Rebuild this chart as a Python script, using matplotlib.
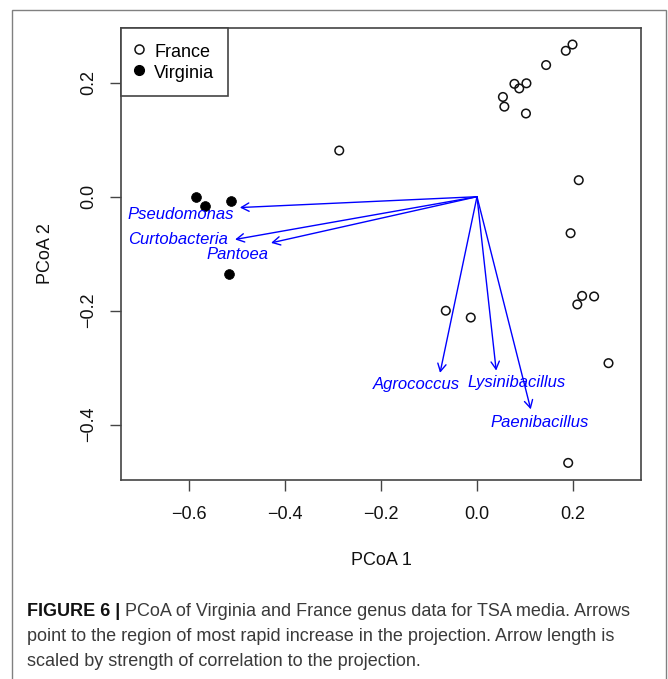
import matplotlib
matplotlib.use("Agg")
import matplotlib.pyplot as plt
from matplotlib.patches import Rectangle
from matplotlib.lines import Line2D

plt.rcParams['font.family'] = ['Liberation Sans', 'DejaVu Sans']

# France samples (open circles)
france_x = [0.199, 0.185, 0.144, 0.078, 0.103, 0.088, 0.054, 0.057, 0.102,
            -0.287, 0.212, 0.195, 0.219, 0.244, 0.209, -0.065, -0.013, 0.274, 0.190]
france_y = [0.267, 0.256, 0.231, 0.198, 0.199, 0.190, 0.175, 0.158, 0.146,
            0.081, 0.029, -0.064, -0.174, -0.175, -0.189, -0.200, -0.212, -0.292, -0.467]

# Virginia samples (filled circles)
virginia_x = [-0.585, -0.566, -0.5125, -0.517]
virginia_y = [0.000, -0.016, -0.007, -0.136]

# Genus arrows (tips) and label positions
genera = ["Pseudomonas", "Curtobacteria", "Pantoea", "Agrococcus", "Lysinibacillus", "Paenibacillus"]
arrow_x = [-0.494, -0.504, -0.429, -0.077, 0.040, 0.112]
arrow_y = [-0.019, -0.075, -0.081, -0.309, -0.305, -0.373]
label_x = [-0.617, -0.623, -0.500, -0.127, 0.083, 0.131]
label_y = [-0.0384, -0.083, -0.1098, -0.338, -0.3344, -0.4035]

x_ticks = [-0.6, -0.4, -0.2, 0.0, 0.2]
y_ticks = [-0.4, -0.2, 0.0, 0.2]

caption_bold = "FIGURE 6 | "
caption_lines = [
    "PCoA of Virginia and France genus data for TSA media. Arrows",
    "point to the region of most rapid increase in the projection. Arrow length is",
    "scaled by strength of correlation to the projection.",
]

W, H = 668, 679
fig = plt.figure(figsize=(W / 100, H / 100), dpi=100)

# outer frame
fig.patches.append(Rectangle((12 / W, -0.05), (666 - 12) / W, 1 - 10 / H + 0.05,
                             transform=fig.transFigure, fill=False,
                             edgecolor='#808080', linewidth=1.0))

ax = fig.add_axes([121 / W, 1 - 480 / H, (641 - 121) / W, (480 - 28) / H])
ax.set_xlim(-0.7417, 0.3417)
ax.set_ylim(-0.497, 0.296)

axcol = '#444444'
for s in ax.spines.values():
    s.set_color(axcol)
    s.set_linewidth(1.2)

ax.set_xticks(x_ticks)
ax.set_xticklabels([f"{v:.1f}".replace('-', '\u2212') for v in x_ticks])
ax.set_yticks(y_ticks)
ax.set_yticklabels([f"{v:.1f}".replace('-', '\u2212') for v in y_ticks],
                   rotation=90, va='center')
ax.tick_params(axis='both', direction='out', length=8, width=1.0, color=axcol,
               labelsize=13, labelcolor='#111111')
ax.tick_params(axis='x', pad=11)
ax.tick_params(axis='y', pad=9)

ax.scatter(france_x, france_y, s=38, facecolors='none', edgecolors='#111111',
           linewidths=1.1, zorder=3)
ax.scatter(virginia_x, virginia_y, s=50, facecolors='black', edgecolors='black',
           linewidths=0.5, zorder=3)

for g, ax_, ay_, lx, ly in zip(genera, arrow_x, arrow_y, label_x, label_y):
    ax.annotate('', xy=(ax_, ay_), xytext=(0, 0),
                arrowprops=dict(arrowstyle='->,head_length=0.55,head_width=0.3',
                                color='#0000ff', lw=1.0, shrinkA=0, shrinkB=0))
    ax.text(lx, ly, g, color='#0000ff', fontsize=12, style='italic',
            ha='center', va='baseline')

ax.text(0.5, -(565 - 480) / 452, "PCoA 1", transform=ax.transAxes,
        ha='center', va='baseline', fontsize=13, color='#111111')
ax.text((50 - 121) / 520, 0.5, "PCoA 2", transform=ax.transAxes,
        ha='center', va='baseline', rotation=90, rotation_mode='anchor',
        fontsize=13, color='#111111')

handles = [
    Line2D([], [], linestyle='none', marker='o', markersize=6.5,
           markerfacecolor='none', markeredgecolor='#111111', markeredgewidth=1.1),
    Line2D([], [], linestyle='none', marker='o', markersize=7,
           markerfacecolor='black', markeredgecolor='black'),
]
leg = ax.legend(handles, ["France", "Virginia"], loc='upper left',
                borderaxespad=0, fancybox=False, framealpha=1,
                edgecolor=axcol, fontsize=13, handlelength=0.45,
                handleheight=1.3, handletextpad=0.65, borderpad=0.75,
                labelspacing=0.05)
leg.get_frame().set_linewidth(1.2)

# caption
x0 = 27 / W
baselines = [615.5, 641, 666]
target_w = 632 - 27
renderer = fig.canvas.get_renderer()
fs = 10
t_b = fig.text(x0, 1 - baselines[0] / H, caption_bold, fontsize=fs,
               fontweight='bold', color='#111111', va='baseline')
t_r = fig.text(0, 0, caption_lines[0], fontsize=fs, color='#3a3a3a', va='baseline')
wb = t_b.get_window_extent(renderer).width
wr = t_r.get_window_extent(renderer).width
fs = fs * target_w / (wb + wr)
t_b.set_fontsize(fs)
t_r.set_fontsize(fs)
wb = t_b.get_window_extent(renderer).width
t_r.set_position((x0 + wb / W, 1 - baselines[0] / H))
for line, b in zip(caption_lines[1:], baselines[1:]):
    fig.text(x0, 1 - b / H, line, fontsize=fs, color='#3a3a3a', va='baseline')

fig.savefig("out.png", dpi=100)
